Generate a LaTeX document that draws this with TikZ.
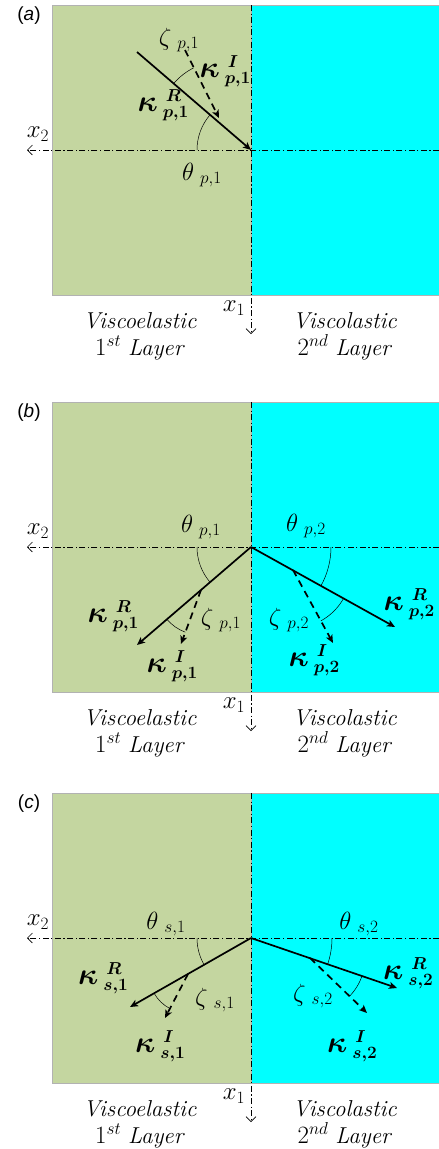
\documentclass[tikz,border=0pt]{standalone}
\usepackage{fontspec}
\usepackage{amsmath}
\usepackage{graphicx}
\newfontfamily\sansf{Liberation Sans}
\usetikzlibrary{arrows.meta,angles}
\definecolor{olv}{RGB}{196,214,160}
\definecolor{cyn}{RGB}{0,255,255}
\newcommand{\gsub}[3]{$#1\kern6pt{}_{#2{,}#3}$}
\newcommand{\kap}[3]{$\vcenter{\hbox{\scalebox{1.22}{$\boldsymbol{\kappa}$}}}\kern5pt
  \vcenter{\hbox{\fontsize{17}{17}\selectfont\shortstack[l]{\kern3pt$\boldsymbol{#1}$\\[2pt]$\boldsymbol{#2{,}#3}$}}}$}
\tikzset{
 grnfill/.style={fill=olv, draw=gray!60, line width=0.7pt},
 cynfill/.style={fill=cyn, draw=gray!60, line width=0.7pt},
 axisline/.style={line width=0.6pt, dash pattern=on 6pt off 2.5pt on 1.2pt off 2.5pt, -{Straight Barb[length=5pt,width=10pt]}},
 wave/.style={line width=1.7pt, -{Stealth[length=8pt,width=7pt,inset=2pt]}},
 wavedash/.style={wave, dash pattern=on 7pt off 5pt},
 arcs/.style={draw, line width=0.5pt},
 lbl/.style={inner sep=0pt, font=\fontsize{24}{28}\selectfont},
 layertxt/.style={inner sep=0pt, align=center, font=\fontsize{23}{27}\selectfont},
 panellbl/.style={inner sep=0pt, font=\sansf\fontsize{19}{22}\selectfont},
}
\newcommand{\panelbase}[2]{%
  \path[grnfill] (52,0) rectangle (251,290);
  \path[cynfill] (251,0) rectangle (439,290);
  \coordinate (#1O) at (251,145);
  \coordinate (#1Xl) at (27,145);
  \coordinate (#1Xr) at (439,145);
  \coordinate (#1Top) at (251,0);
  \coordinate (#1Bot) at (251,329);
  \draw[axisline] (#1Xr) -- (#1Xl);
  \draw[axisline] (#1Top) -- (#1Bot);
  \node[lbl] (#1x2) at (38,129) {$x_2$};
  \node[lbl] (#1x1) at (234,303) {$x_1$};
  \node[layertxt] (#1La) at (140,331) {\textit{Viscoelastic}\\$1^{st}$ \textit{Layer}};
  \node[layertxt] (#1Lb) at (345,331) {\textit{Viscolastic}\\$2^{nd}$ \textit{Layer}};
  \node[panellbl] (#1lab) at (29,11) {(\textit{#2})};
}
\begin{document}
\begin{tikzpicture}[x=1pt,y=-1pt]
\useasboundingbox (0,0) rectangle (439,1149);

% ---------------- panel (a)
\begin{scope}[shift={(0,5)}]
\panelbase{a}{a}
\coordinate (aA) at (137,47);
\coordinate (aD1) at (185,45);
\coordinate (aD2) at (219,113);
\draw[wave] (aA) -- (aO);
\draw[wavedash] (aD1) -- (aD2);
\coordinate (aC) at (intersection of aA--aO and aD1--aD2);
\pic[arcs, angle radius=54pt] {angle=aA--aO--aXl};
\pic[arcs, angle radius=65pt] {angle=aD1--aC--aA};
\node[lbl] (aZ) at (179,35) {\gsub{\zeta}{p}{1}};
\node[lbl] (aKI) at (225,66) {\kap{I}{p}{1}};
\node[lbl] (aKR) at (163,100) {\kap{R}{p}{1}};
\node[lbl] (aT) at (202,170) {\gsub{\theta}{p}{1}};
\end{scope}

% ---------------- panel (b)
\begin{scope}[shift={(0,402)}]
\panelbase{b}{b}
\coordinate (bL) at (137,243);
\coordinate (bD1) at (201,188);
\coordinate (bD2) at (181,242);
\coordinate (bR) at (395,225);
\coordinate (bE1) at (293,168);
\coordinate (bE2) at (333,241);
\draw[wave] (bO) -- (bL);
\draw[wave] (bO) -- (bR);
\draw[wavedash] (bD1) -- (bD2);
\draw[wavedash] (bE1) -- (bE2);
\pic[arcs, angle radius=54pt] {angle=bXl--bO--bL};
\pic[arcs, angle radius=45pt] {angle=bL--bD1--bD2};
\pic[arcs, angle radius=80pt] {angle=bR--bO--bXr};
\pic[arcs, angle radius=58pt] {angle=bE2--bE1--bR};
\node[lbl] (bT1) at (201,125) {\gsub{\theta}{p}{1}};
\node[lbl] (bT2) at (306,124) {\gsub{\theta}{p}{2}};
\node[lbl] (bKR1) at (113,214) {\kap{R}{p}{1}};
\node[lbl] (bZ1) at (221,218) {\gsub{\zeta}{p}{1}};
\node[lbl] (bKI1) at (172,264) {\kap{I}{p}{1}};
\node[lbl] (bZ2) at (289,218) {\gsub{\zeta}{p}{2}};
\node[lbl] (bKR2) at (409,202) {\kap{R}{p}{2}};
\node[lbl] (bKI2) at (314,258) {\kap{I}{p}{2}};
\end{scope}

% ---------------- panel (c)
\begin{scope}[shift={(0,793)}]
\panelbase{c}{c}
\coordinate (cL) at (130,214);
\coordinate (cD1) at (188,181);
\coordinate (cD2) at (165,225);
\coordinate (cR) at (397,195);
\coordinate (cE1) at (310,165);
\coordinate (cE2) at (367,220);
\draw[wave] (cO) -- (cL);
\draw[wave] (cO) -- (cR);
\draw[wavedash] (cD1) -- (cD2);
\draw[wavedash] (cE1) -- (cE2);
\pic[arcs, angle radius=54pt] {angle=cXl--cO--cL};
\pic[arcs, angle radius=39pt] {angle=cL--cD1--cD2};
\pic[arcs, angle radius=81pt] {angle=cR--cO--cXr};
\pic[arcs, angle radius=55pt] {angle=cE2--cE1--cR};
\node[lbl] (cT1) at (166,131) {\gsub{\theta}{s}{1}};
\node[lbl] (cT2) at (359,131) {\gsub{\theta}{s}{2}};
\node[lbl] (cKR1) at (103,185) {\kap{R}{s}{1}};
\node[lbl] (cZ1) at (215,207) {\gsub{\zeta}{s}{1}};
\node[lbl] (cKI1) at (160,253) {\kap{I}{s}{1}};
\node[lbl] (cZ2) at (313,203) {\gsub{\zeta}{s}{2}};
\node[lbl] (cKR2) at (408,180) {\kap{R}{s}{2}};
\node[lbl] (cKI2) at (352,253) {\kap{I}{s}{2}};
\end{scope}
\end{tikzpicture}
\end{document}
